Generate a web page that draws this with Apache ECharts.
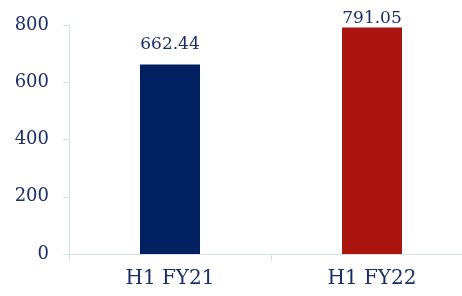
<!DOCTYPE html>
<html>
<head>
<meta charset="utf-8">
<script src="https://cdn.jsdelivr.net/npm/echarts@6/dist/echarts.min.js"></script>
<style>html,body{margin:0;padding:0;background:#fff;overflow:hidden}#c{width:473px;height:296px}</style>
</head>
<body>
<div id="c"></div>
<script>
const categories = ['H1 FY21', 'H1 FY22'];
const values = [662.44, 791.05];
const barColors = ['#002060', '#aa1510'];
const labelDistances = [11, 0];
const yTicks = { min: 0, max: 800, interval: 200 };

const textColor = '#1b2f63';
const axisColor = '#d5e2ee';
const font = 'DejaVu Serif';

const chart = echarts.init(document.getElementById('c'), null, { renderer: 'canvas' });
chart.setOption({
  animation: false,
  grid: { left: 69, right: 0, top: 25, bottom: 42, containLabel: false },
  xAxis: {
    type: 'category',
    data: categories,
    axisLine: { show: true, lineStyle: { color: axisColor, width: 1 } },
    axisTick: { show: true, length: 7, lineStyle: { color: axisColor } },
    axisLabel: { color: textColor, fontFamily: font, fontSize: 20, margin: 15 }
  },
  yAxis: {
    type: 'value',
    min: yTicks.min, max: yTicks.max, interval: yTicks.interval,
    axisLine: { show: true, lineStyle: { color: axisColor, width: 1 } },
    axisTick: { show: true, length: 6, lineStyle: { color: axisColor } },
    splitLine: { show: false },
    axisLabel: { color: textColor, fontFamily: font, fontSize: 18, margin: 20 }
  },
  series: [{
    type: 'bar',
    barWidth: 60,
    data: values.map((v, i) => ({
      value: v,
      itemStyle: { color: barColors[i] },
      label: { distance: labelDistances[i] }
    })),
    label: {
      show: true,
      position: 'top',
      color: textColor,
      fontFamily: font,
      fontSize: 17,
      formatter: p => p.value.toFixed(2)
    }
  }]
});
</script>
</body>
</html>
